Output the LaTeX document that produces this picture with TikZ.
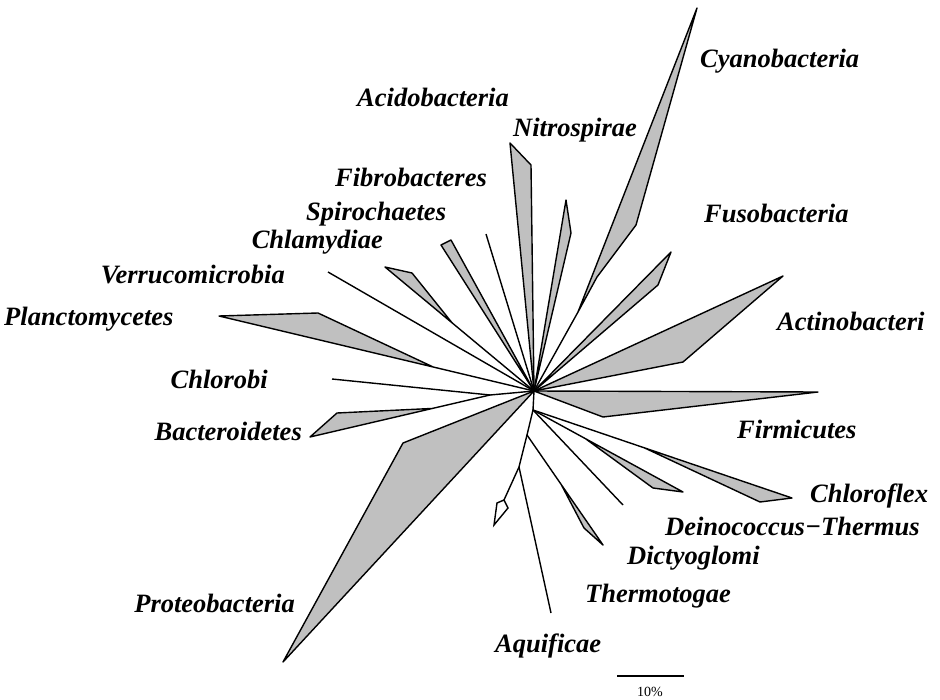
\documentclass[tikz,border=0pt]{standalone}
\usepackage{fontspec}
\setmainfont{Liberation Serif}
\usetikzlibrary{calc}
\definecolor{cladegray}{RGB}{192,192,192}
\begin{document}
\begin{tikzpicture}[x=1bp,y=-1bp,
  branch/.style={draw=black,line width=1.4bp,line join=miter},
  clade/.style={draw=black,fill=cladegray,line width=1.4bp,line join=round},
  taxon/.style={inner sep=0pt,font=\fontsize{26.5bp}{30bp}\selectfont\bfseries\itshape},
  scalelbl/.style={inner sep=0pt,font=\fontsize{14bp}{16bp}\selectfont}]
\useasboundingbox (0,0) rectangle (940,700);
% junctions
\coordinate (C) at (534,391);
\coordinate (J1) at (490,395);
\coordinate (J2) at (533,410);
\coordinate (J3) at (527,435);
\coordinate (J4) at (519,467);
\coordinate (JCy) at (578,312);
% tips
\coordinate (cyA) at (697,8);   \coordinate (cyB) at (636,225); \coordinate (cyC) at (597,277);
\coordinate (acA) at (510,143); \coordinate (acB) at (531,165);
\coordinate (niA) at (566,200); \coordinate (niB) at (571,233);
\coordinate (fi) at (486,234);
\coordinate (spA) at (441,245); \coordinate (spB) at (451,240);
\coordinate (chA) at (385,267); \coordinate (chB) at (412,273);
\coordinate (ve) at (328,272);
\coordinate (plA) at (219,316); \coordinate (plB) at (318,313);
\coordinate (clb) at (332,379);
\coordinate (baA) at (310,437); \coordinate (baB) at (337,413);
\coordinate (prA) at (403,443); \coordinate (prB) at (283,662);
\coordinate (fuA) at (671,252); \coordinate (fuB) at (658,285);
\coordinate (acnA) at (783,276); \coordinate (acnB) at (683,362);
\coordinate (fmA) at (818,392); \coordinate (fmB) at (603,417);
\coordinate (cfA) at (792,498); \coordinate (cfB) at (760,502);
\coordinate (deA) at (683,492); \coordinate (deB) at (653,488);
\coordinate (ln) at (623,505);
\coordinate (dtA) at (603,545); \coordinate (dtB) at (584,528);
\coordinate (aq) at (551,613);
\coordinate (dmA) at (504,500); \coordinate (dmB) at (508,508);
\coordinate (dmC) at (494,525); \coordinate (dmD) at (497,503);
% clades
\draw[branch] (C) -- (JCy);
\draw[clade] (JCy) -- (cyA) -- (cyB) -- (cyC) -- cycle;
\draw[clade] (C) -- (acA) -- (acB) -- cycle;
\draw[clade] (C) -- (niA) -- (niB) -- cycle;
\draw[branch] (C) -- (fi);
\draw[clade] (C) -- (spA) -- (spB) -- cycle;
\draw[clade] (C) -- (chA) -- (chB) -- ($(C)!0.55!(chA)$) -- cycle;
\draw[branch] (C) -- (ve);
\draw[clade] (C) -- (plA) -- (plB) -- ($(C)!0.32!(plA)$) -- cycle;
\draw[branch] (C) -- (J1) -- (clb);
\draw[clade] (J1) -- (baA) -- (baB) -- ($(J1)!0.32!(baA)$) -- cycle;
\draw[clade] (C) -- (prA) -- (prB) -- cycle;
\draw[clade] (C) -- (fuA) -- (fuB) -- cycle;
\draw[clade] (C) -- (acnA) -- (acnB) -- cycle;
\draw[clade] (C) -- (fmA) -- (fmB) -- cycle;
\draw[branch] (C) -- (J2) -- (J3) -- (J4);
\draw[clade] (J2) -- (cfA) -- (cfB) -- ($(J2)!0.43!(cfA)$) -- cycle;
\draw[clade] (J2) -- (deA) -- (deB) -- ($(J2)!0.35!(deA)$) -- cycle;
\draw[branch] (J2) -- (ln);
\draw[clade] (J3) -- (dtA) -- (dtB) -- ($(J3)!0.45!(dtA)$) -- cycle;
\draw[branch] (J4) -- (aq);
\draw[branch] (J4) -- (dmA);
\draw[branch,fill=white] (dmA) -- (dmB) -- (dmC) -- (dmD) -- cycle;
% labels
\node[taxon,anchor=base west] (Lcy) at (700,68) {Cyanobacteria};
\node[taxon,anchor=base west] (Lac) at (357,107) {Acidobacteria};
\node[taxon,anchor=base west] (Lni) at (513,137) {Nitrospirae};
\node[taxon,anchor=base west] (Lfi) at (335,187) {Fibrobacteres};
\node[taxon,anchor=base west] (Lsp) at (306,220) {Spirochaetes};
\node[taxon,anchor=base east] (Lch) at (383,248) {Chlamydiae};
\node[taxon,anchor=base east] (Lve) at (285,283) {Verrucomicrobia};
\node[taxon,anchor=base west] (Lpl) at (4,325) {Planctomycetes};
\node[taxon,anchor=base east] (Lcl) at (268,388) {Chlorobi};
\node[taxon,anchor=base east] (Lba) at (302,440) {Bacteroidetes};
\node[taxon,anchor=base east] (Lpr) at (295,612) {Proteobacteria};
\node[taxon,anchor=base west] (Laq) at (495,652) {Aquificae};
\node[taxon,anchor=base west] (Lth) at (585,602) {Thermotogae};
\node[taxon,anchor=base west] (Ldi) at (627,564) {Dictyoglomi};
\node[taxon,anchor=base west] (Lde) at (665,535) {Deinococcus−Thermus};
\node[taxon,anchor=base west] (Lcf) at (810,502) {Chloroflex};
\node[taxon,anchor=base west] (Lfm) at (737,438) {Firmicutes};
\node[taxon,anchor=base west] (Lacn) at (777,330) {Actinobacteri};
\node[taxon,anchor=base west] (Lfu) at (704,222) {Fusobacteria};
% scale bar
\coordinate (s1) at (617,676);
\coordinate (s2) at (684,676);
\draw[branch] (s1) -- (s2);
\node[scalelbl] (Ls) at (650,692) {10\%};
\end{tikzpicture}
\end{document}
